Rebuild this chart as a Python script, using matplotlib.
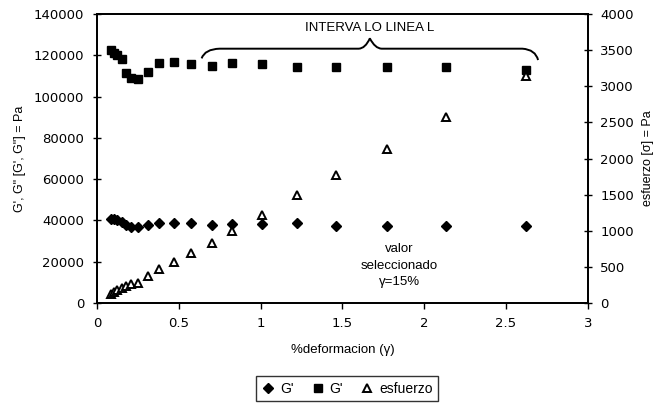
import numpy as np
import matplotlib.pyplot as plt
from matplotlib.path import Path
from matplotlib.patches import PathPatch

plt.rcParams['font.family'] = ['Liberation Sans', 'DejaVu Sans']
plt.rcParams['font.size'] = 9

# % deformacion (gamma)
deformacion = [0.084, 0.104, 0.124, 0.151, 0.177, 0.206, 0.252, 0.313, 0.381, 0.472,
               0.578, 0.701, 0.823, 1.006, 1.22, 1.46, 1.773, 2.136, 2.62]
# G'' (rombos), Pa
g2 = [40800, 40600, 40200, 39200, 38000, 37000, 36700, 37600, 38900, 38900,
      38900, 37800, 38400, 38300, 38600, 37400, 37400, 37400, 37300]
# G' (cuadrados), Pa
g1 = [122500, 121300, 120000, 118000, 111600, 108900, 108500, 112000, 116100, 116600,
      115800, 114800, 116100, 115600, 114500, 114500, 114500, 114200, 112900]
# esfuerzo (triangulos), Pa, eje derecho
esfuerzo = [120, 150, 175, 203, 235, 263, 281, 374, 470, 571,
            688, 826, 996, 1218, 1495, 1771, 2131, 2578, 3141]

fig = plt.figure(figsize=(6.59, 4.07), dpi=100)
ax = fig.add_axes([0.147, 0.2555, 0.745, 0.7101])
ax2 = ax.twinx()

h1, = ax.plot(deformacion, g2, linestyle='none', marker='D', ms=4.8,
              mfc='black', mec='black', label="G'")
h2, = ax.plot(deformacion, g1, linestyle='none', marker='s', ms=5.2,
              mfc='black', mec='black', label="G'")
h3, = ax2.plot(deformacion, esfuerzo, linestyle='none', marker='^', ms=5.8,
               mfc='white', mec='black', mew=1.4, label='esfuerzo')

ax.set_xlim(0, 3)
ax.set_ylim(0, 140000)
ax2.set_ylim(0, 4000)
ax.set_xticks([0, 0.5, 1, 1.5, 2, 2.5, 3])
ax.set_xticklabels(['0', '0.5', '1', '1.5', '2', '2.5', '3'])
ax.set_yticks(np.arange(0, 140001, 20000))
ax2.set_yticks(np.arange(0, 4001, 500))

for a in (ax, ax2):
    for s in a.spines.values():
        s.set_linewidth(1.3)
    for lbl in a.get_xticklabels() + a.get_yticklabels():
        lbl.set_family('DejaVu Sans')
        lbl.set_fontsize(9.5)
ax.tick_params(axis='x', direction='out', length=4, width=1, pad=6)
ax.tick_params(axis='y', direction='inout', length=6, width=1, pad=6)
ax2.tick_params(axis='y', direction='inout', length=6, width=1, pad=6)

ax.set_xlabel('%deformacion (\u03b3)', labelpad=10, fontsize=9.5)
ax.set_ylabel("G', G\" [G', G\"] = Pa", labelpad=6)
ax2.set_ylabel('esfuerzo [\u03c3] = Pa', labelpad=6)

# llave del intervalo lineal
verts = [(0.64, 118500), (0.66, 123000), (0.75, 123200), (0.9, 123200),
         (1.6, 123200), (1.64, 123300), (1.668, 128200),
         (1.7, 123300), (1.74, 123200), (2.4, 123200),
         (2.6, 123200), (2.68, 122800), (2.696, 117700)]
codes = [Path.MOVETO, Path.CURVE3, Path.CURVE3, Path.LINETO,
         Path.LINETO, Path.CURVE3, Path.CURVE3,
         Path.CURVE3, Path.CURVE3, Path.LINETO,
         Path.LINETO, Path.CURVE3, Path.CURVE3]
ax.add_patch(PathPatch(Path(verts, codes), fill=False, lw=1.4, color='black'))
ax.text(1.668, 133300, 'INTERVA LO LINEA L', ha='center', va='center', fontsize=9.5)
ax.text(1.85, 18000, 'valor\nseleccionado\n\u03b3=15%', ha='center', va='center',
        fontsize=9.5, linespacing=1.5)

fig.legend(handles=[h1, h2, h3], loc='center', bbox_to_anchor=(0.527, 0.045),
           ncol=3, frameon=True, fancybox=False, edgecolor='black',
           handlelength=0.9, handletextpad=0.4, columnspacing=1.3,
           borderpad=0.4, fontsize=10).get_frame().set_linewidth(1.0)

fig.savefig('out.png', dpi=100)
